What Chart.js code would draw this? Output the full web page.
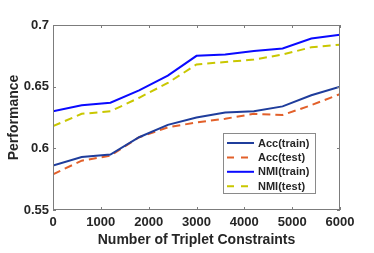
<!DOCTYPE html>
<html>
<head>
<meta charset="utf-8">
<script src="https://cdn.jsdelivr.net/npm/chart.js@4"></script>
<style>
  body { margin: 0; background: #fff; }
  #chart { display: block; }
</style>
</head>
<body>
<canvas id="chart" width="374" height="253"></canvas>
<script>
// data
const constraints = [0, 600, 1200, 1800, 2400, 3000, 3600, 4200, 4800, 5400, 6000];
const accTrain = [0.586, 0.593, 0.595, 0.609, 0.619, 0.625, 0.629, 0.630, 0.634, 0.643, 0.650];
const accTest  = [0.579, 0.590, 0.594, 0.609, 0.617, 0.621, 0.624, 0.628, 0.627, 0.635, 0.644];
const nmiTrain = [0.630, 0.635, 0.637, 0.647, 0.659, 0.675, 0.676, 0.679, 0.681, 0.689, 0.692];
const nmiTest  = [0.618, 0.628, 0.630, 0.641, 0.653, 0.668, 0.670, 0.672, 0.676, 0.682, 0.684];
const xTicks = [0, 1000, 2000, 3000, 4000, 5000, 6000];
const yTicks = [0.55, 0.6, 0.65, 0.7];

const seriesNames = ['Acc(train)', 'Acc(test)', 'NMI(train)', 'NMI(test)'];
const seriesColors = ['#1f3d9c', '#e2602a', '#0a0aff', '#c9c700'];
const seriesDash = [[], [8, 5], [], [8, 5]];
const seriesValues = [accTrain, accTest, nmiTrain, nmiTest];

const axisColor = '#7c7c7c';
const textColor = '#262626';
const fontFamily = '"Liberation Sans", Arial, Helvetica, sans-serif';

function toPoints(values) {
  return constraints.map((c, i) => ({ x: c, y: values[i] }));
}

// inward ticks + box around the axes, like matlab
const boxPlugin = {
  id: 'box',
  afterDatasetsDraw(chart) {
    const { ctx, chartArea: a, scales } = chart;
    ctx.save();
    ctx.strokeStyle = axisColor;
    ctx.lineWidth = 1;
    ctx.strokeRect(a.left + 0.5, a.top + 0.5, a.right - a.left - 1, a.bottom - a.top - 1);
    ctx.beginPath();
    xTicks.forEach(v => {
      const px = Math.round(scales.x.getPixelForValue(v)) + 0.5;
      ctx.moveTo(px, a.bottom); ctx.lineTo(px, a.bottom - 3);
      ctx.moveTo(px, a.top); ctx.lineTo(px, a.top + 3);
    });
    yTicks.forEach(v => {
      const py = Math.round(scales.y.getPixelForValue(v)) + 0.5;
      ctx.moveTo(a.left, py); ctx.lineTo(a.left + 3, py);
      ctx.moveTo(a.right, py); ctx.lineTo(a.right - 3, py);
    });
    ctx.stroke();
    ctx.restore();
  }
};

// legend box inside the plot, lower right
const legendPlugin = {
  id: 'innerLegend',
  afterDraw(chart) {
    const ctx = chart.ctx;
    const x0 = 223, y0 = 133, w = 93, h = 61;
    ctx.save();
    ctx.fillStyle = '#fff';
    ctx.fillRect(x0, y0, w, h);
    ctx.strokeStyle = '#8a8a8a';
    ctx.lineWidth = 1;
    ctx.strokeRect(x0 + 0.5, y0 + 0.5, w - 1, h - 1);
    ctx.font = 'bold 11px ' + fontFamily;
    ctx.textBaseline = 'middle';
    ctx.fillStyle = textColor;
    chart.data.datasets.forEach((ds, i) => {
      const y = y0 + 10 + i * 14.4;
      ctx.beginPath();
      ctx.strokeStyle = ds.borderColor;
      ctx.lineWidth = 2;
      ctx.setLineDash(ds.borderDash.length ? [7, 7] : []);
      ctx.moveTo(x0 + 4, y);
      ctx.lineTo(x0 + 31, y);
      ctx.stroke();
      ctx.setLineDash([]);
      ctx.fillText(ds.label, x0 + 35, y + 0.5);
    });
    ctx.restore();
  }
};

new Chart(document.getElementById('chart'), {
  type: 'line',
  data: {
    datasets: seriesNames.map((name, i) => ({
      label: name,
      data: toPoints(seriesValues[i]),
      borderColor: seriesColors[i],
      backgroundColor: seriesColors[i],
      borderDash: seriesDash[i],
      borderWidth: 2,
      pointRadius: 0,
      tension: 0,
      fill: false
    }))
  },
  options: {
    responsive: false,
    animation: false,
    layout: { padding: { left: 0, top: 25, right: 34, bottom: 0 } },
    plugins: {
      legend: { display: false },
      tooltip: { enabled: false }
    },
    scales: {
      x: {
        type: 'linear',
        min: 0,
        max: 6000,
        afterBuildTicks: s => { s.ticks = xTicks.map(v => ({ value: v })); },
        afterFit: s => { s.height = 43; },
        grid: { display: false, drawTicks: false },
        border: { display: false },
        ticks: {
          color: textColor,
          padding: 5,
          maxRotation: 0,
          font: { family: fontFamily, size: 13, weight: 'bold' },
          callback: v => String(v)
        },
        title: {
          display: true,
          text: 'Number of Triplet Constraints',
          color: textColor,
          font: { family: fontFamily, size: 14, weight: 'bold' },
          padding: { top: 0, bottom: 4.6 }
        }
      },
      y: {
        min: 0.55,
        max: 0.7,
        afterBuildTicks: s => { s.ticks = yTicks.map(v => ({ value: v })); },
        afterFit: s => { s.width = 53; },
        grid: { display: false, drawTicks: false },
        border: { display: false },
        ticks: {
          color: textColor,
          padding: 4,
          font: { family: fontFamily, size: 13, weight: 'bold' },
          callback: v => String(+v.toFixed(2))
        },
        title: {
          display: true,
          text: 'Performance',
          color: textColor,
          font: { family: fontFamily, size: 14, weight: 'bold' },
          padding: { top: 6, bottom: 0 }
        }
      }
    }
  },
  plugins: [boxPlugin, legendPlugin]
});
</script>
</body>
</html>
